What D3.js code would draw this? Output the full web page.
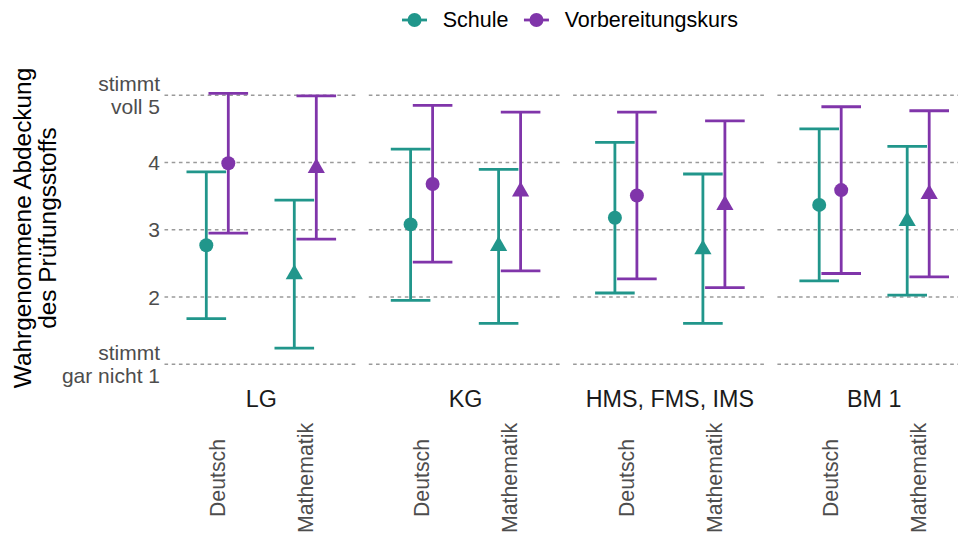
<!DOCTYPE html>
<html>
<head>
<meta charset="utf-8">
<script src="https://cdn.jsdelivr.net/npm/d3@7/dist/d3.min.js"></script>
<style>
  html, body { margin: 0; padding: 0; background: #fff; }
  svg { display: block; font-family: "Liberation Sans", Arial, sans-serif; }
</style>
</head>
<body>
<svg id="chart" width="958" height="533"></svg>
<script>
// ---------- data ----------
const facets = ["LG", "KG", "HMS, FMS, IMS", "BM 1"];
const subjects = ["Deutsch", "Mathematik"];
const groups = ["Schule", "Vorbereitungskurs"];
// order: LG-Deutsch, LG-Mathematik, KG-Deutsch, KG-Mathematik, HMS-Deutsch, HMS-Mathematik, BM1-Deutsch, BM1-Mathematik
const schuleMean = [2.77, 2.34, 3.08, 2.76, 3.18, 2.71, 3.37, 3.13];
const schuleLow  = [1.68, 1.24, 1.95, 1.61, 2.06, 1.61, 2.24, 2.03];
const schuleHigh = [3.86, 3.44, 4.20, 3.90, 4.30, 3.83, 4.50, 4.24];
const vorbMean   = [3.99, 3.92, 3.68, 3.57, 3.51, 3.37, 3.59, 3.53];
const vorbLow    = [2.95, 2.86, 2.52, 2.39, 2.27, 2.14, 2.35, 2.30];
const vorbHigh   = [5.03, 4.99, 4.85, 4.75, 4.75, 4.62, 4.83, 4.77];
const yTicks = [1, 2, 3, 4, 5];
const yTickLabels = [["stimmt", "gar nicht 1"], ["2"], ["3"], ["4"], ["stimmt", "voll 5"]];
const yTitle = ["Wahrgenommene Abdeckung", "des Prüfungsstoffs"];

const colors = { "Schule": "#21968b", "Vorbereitungskurs": "#8035aa" };

// build rows
const rows = [];
facets.forEach((f, fi) => {
  subjects.forEach((s, si) => {
    const k = fi * 2 + si;
    rows.push({ facet: f, subject: s, group: "Schule", mean: schuleMean[k], low: schuleLow[k], high: schuleHigh[k] });
    rows.push({ facet: f, subject: s, group: "Vorbereitungskurs", mean: vorbMean[k], low: vorbLow[k], high: vorbHigh[k] });
  });
});

// ---------- layout ----------
const svg = d3.select("#chart");

const y = d3.scaleLinear().domain([1, 5]).range([364.3, 95.3]);
const fx = d3.scaleBand().domain(facets).range([164.5, 971]).paddingInner(0.0524).paddingOuter(0);
const sx = d3.scalePoint().domain(subjects).range([0, fx.bandwidth()]).padding(0.6);
const dodge = d3.scalePoint().domain(groups).range([-0.125, 0.125]);
const capHalf = 0.225; // fraction of subject step

const step = sx.step();

// gridlines
const panels = svg.append("g");
facets.forEach(f => {
  const g = panels.append("g").attr("transform", `translate(${fx(f)},0)`);
  g.selectAll("line.grid").data(yTicks).join("line")
    .attr("x1", 0).attr("x2", fx.bandwidth())
    .attr("y1", d => y(d)).attr("y2", d => y(d))
    .attr("stroke", "#9a9a9a").attr("stroke-width", 1.5)
    .attr("stroke-dasharray", "3.6,3.6");
});

// y tick labels
const yt = svg.append("g");
yTicks.forEach((t, i) => {
  const lines = yTickLabels[i];
  const lh = 23.3;
  const base = y(t) + 7.5 - (lines.length - 1) * lh / 2;
  const txt = yt.append("text").attr("text-anchor", "end")
    .attr("font-size", 21).attr("fill", "#4d4d4d");
  lines.forEach((l, j) => {
    txt.append("tspan").attr("x", 160).attr("y", base + j * lh).text(l);
  });
});

// y title
const tt = svg.append("text").attr("transform", "translate(0,228) rotate(-90)")
  .attr("text-anchor", "middle").attr("font-size", 24.4).attr("fill", "#000");
yTitle.forEach((l, j) => {
  tt.append("tspan").attr("x", 0).attr("y", 30.5 + j * 25).text(l);
});

// strip labels
svg.selectAll("text.strip").data(facets).join("text")
  .attr("class", "strip")
  .attr("x", d => fx(d) + (sx(subjects[0]) + sx(subjects[1])) / 2)
  .attr("y", 406.7)
  .attr("text-anchor", "middle").attr("font-size", 23.3).attr("fill", "#1a1a1a")
  .text(d => d);

// x tick labels
facets.forEach(f => {
  subjects.forEach(s => {
    svg.append("text")
      .attr("transform", `translate(${fx(f) + sx(s)},478) rotate(-90)`)
      .attr("text-anchor", "middle").attr("dy", "0.36em")
      .attr("font-size", 21.3).attr("fill", "#4d4d4d")
      .text(s);
  });
});

// marks
const xpos = d => fx(d.facet) + sx(d.subject) + dodge(d.group) * step;
const marks = svg.append("g");
const eb = marks.selectAll("g.eb").data(rows).join("g").attr("class", "eb");
eb.append("line")
  .attr("x1", xpos).attr("x2", xpos)
  .attr("y1", d => y(d.low)).attr("y2", d => y(d.high))
  .attr("stroke", d => colors[d.group]).attr("stroke-width", 2.8);
eb.append("line")
  .attr("x1", d => xpos(d) - capHalf * step).attr("x2", d => xpos(d) + capHalf * step)
  .attr("y1", d => y(d.low)).attr("y2", d => y(d.low))
  .attr("stroke", d => colors[d.group]).attr("stroke-width", 2.8);
eb.append("line")
  .attr("x1", d => xpos(d) - capHalf * step).attr("x2", d => xpos(d) + capHalf * step)
  .attr("y1", d => y(d.high)).attr("y2", d => y(d.high))
  .attr("stroke", d => colors[d.group]).attr("stroke-width", 2.8);

const circ = d3.symbol().type(d3.symbolCircle).size(Math.PI * 7 * 7);
const tri = d3.symbol().type(d3.symbolTriangle).size(128);
marks.selectAll("path.pt").data(rows).join("path")
  .attr("class", "pt")
  .attr("transform", d => `translate(${xpos(d)},${y(d.mean)})`)
  .attr("d", d => d.subject === "Deutsch" ? circ() : tri())
  .attr("fill", d => colors[d.group]);

// legend
const leg = svg.append("g");
let lx = 402;
const ly = 20;
groups.forEach(gname => {
  leg.append("line").attr("x1", lx).attr("x2", lx + 25).attr("y1", ly).attr("y2", ly)
    .attr("stroke", colors[gname]).attr("stroke-width", 2.8);
  leg.append("path").attr("transform", `translate(${lx + 12.5},${ly})`)
    .attr("d", circ()).attr("fill", colors[gname]);
  const t = leg.append("text").attr("x", lx + 40.7).attr("y", ly + 6.8)
    .attr("font-size", 21.5).attr("fill", "#000").text(gname);
  const w = t.node().getComputedTextLength();
  lx = lx + 40.7 + w + 15.5;
});
</script>
</body>
</html>
